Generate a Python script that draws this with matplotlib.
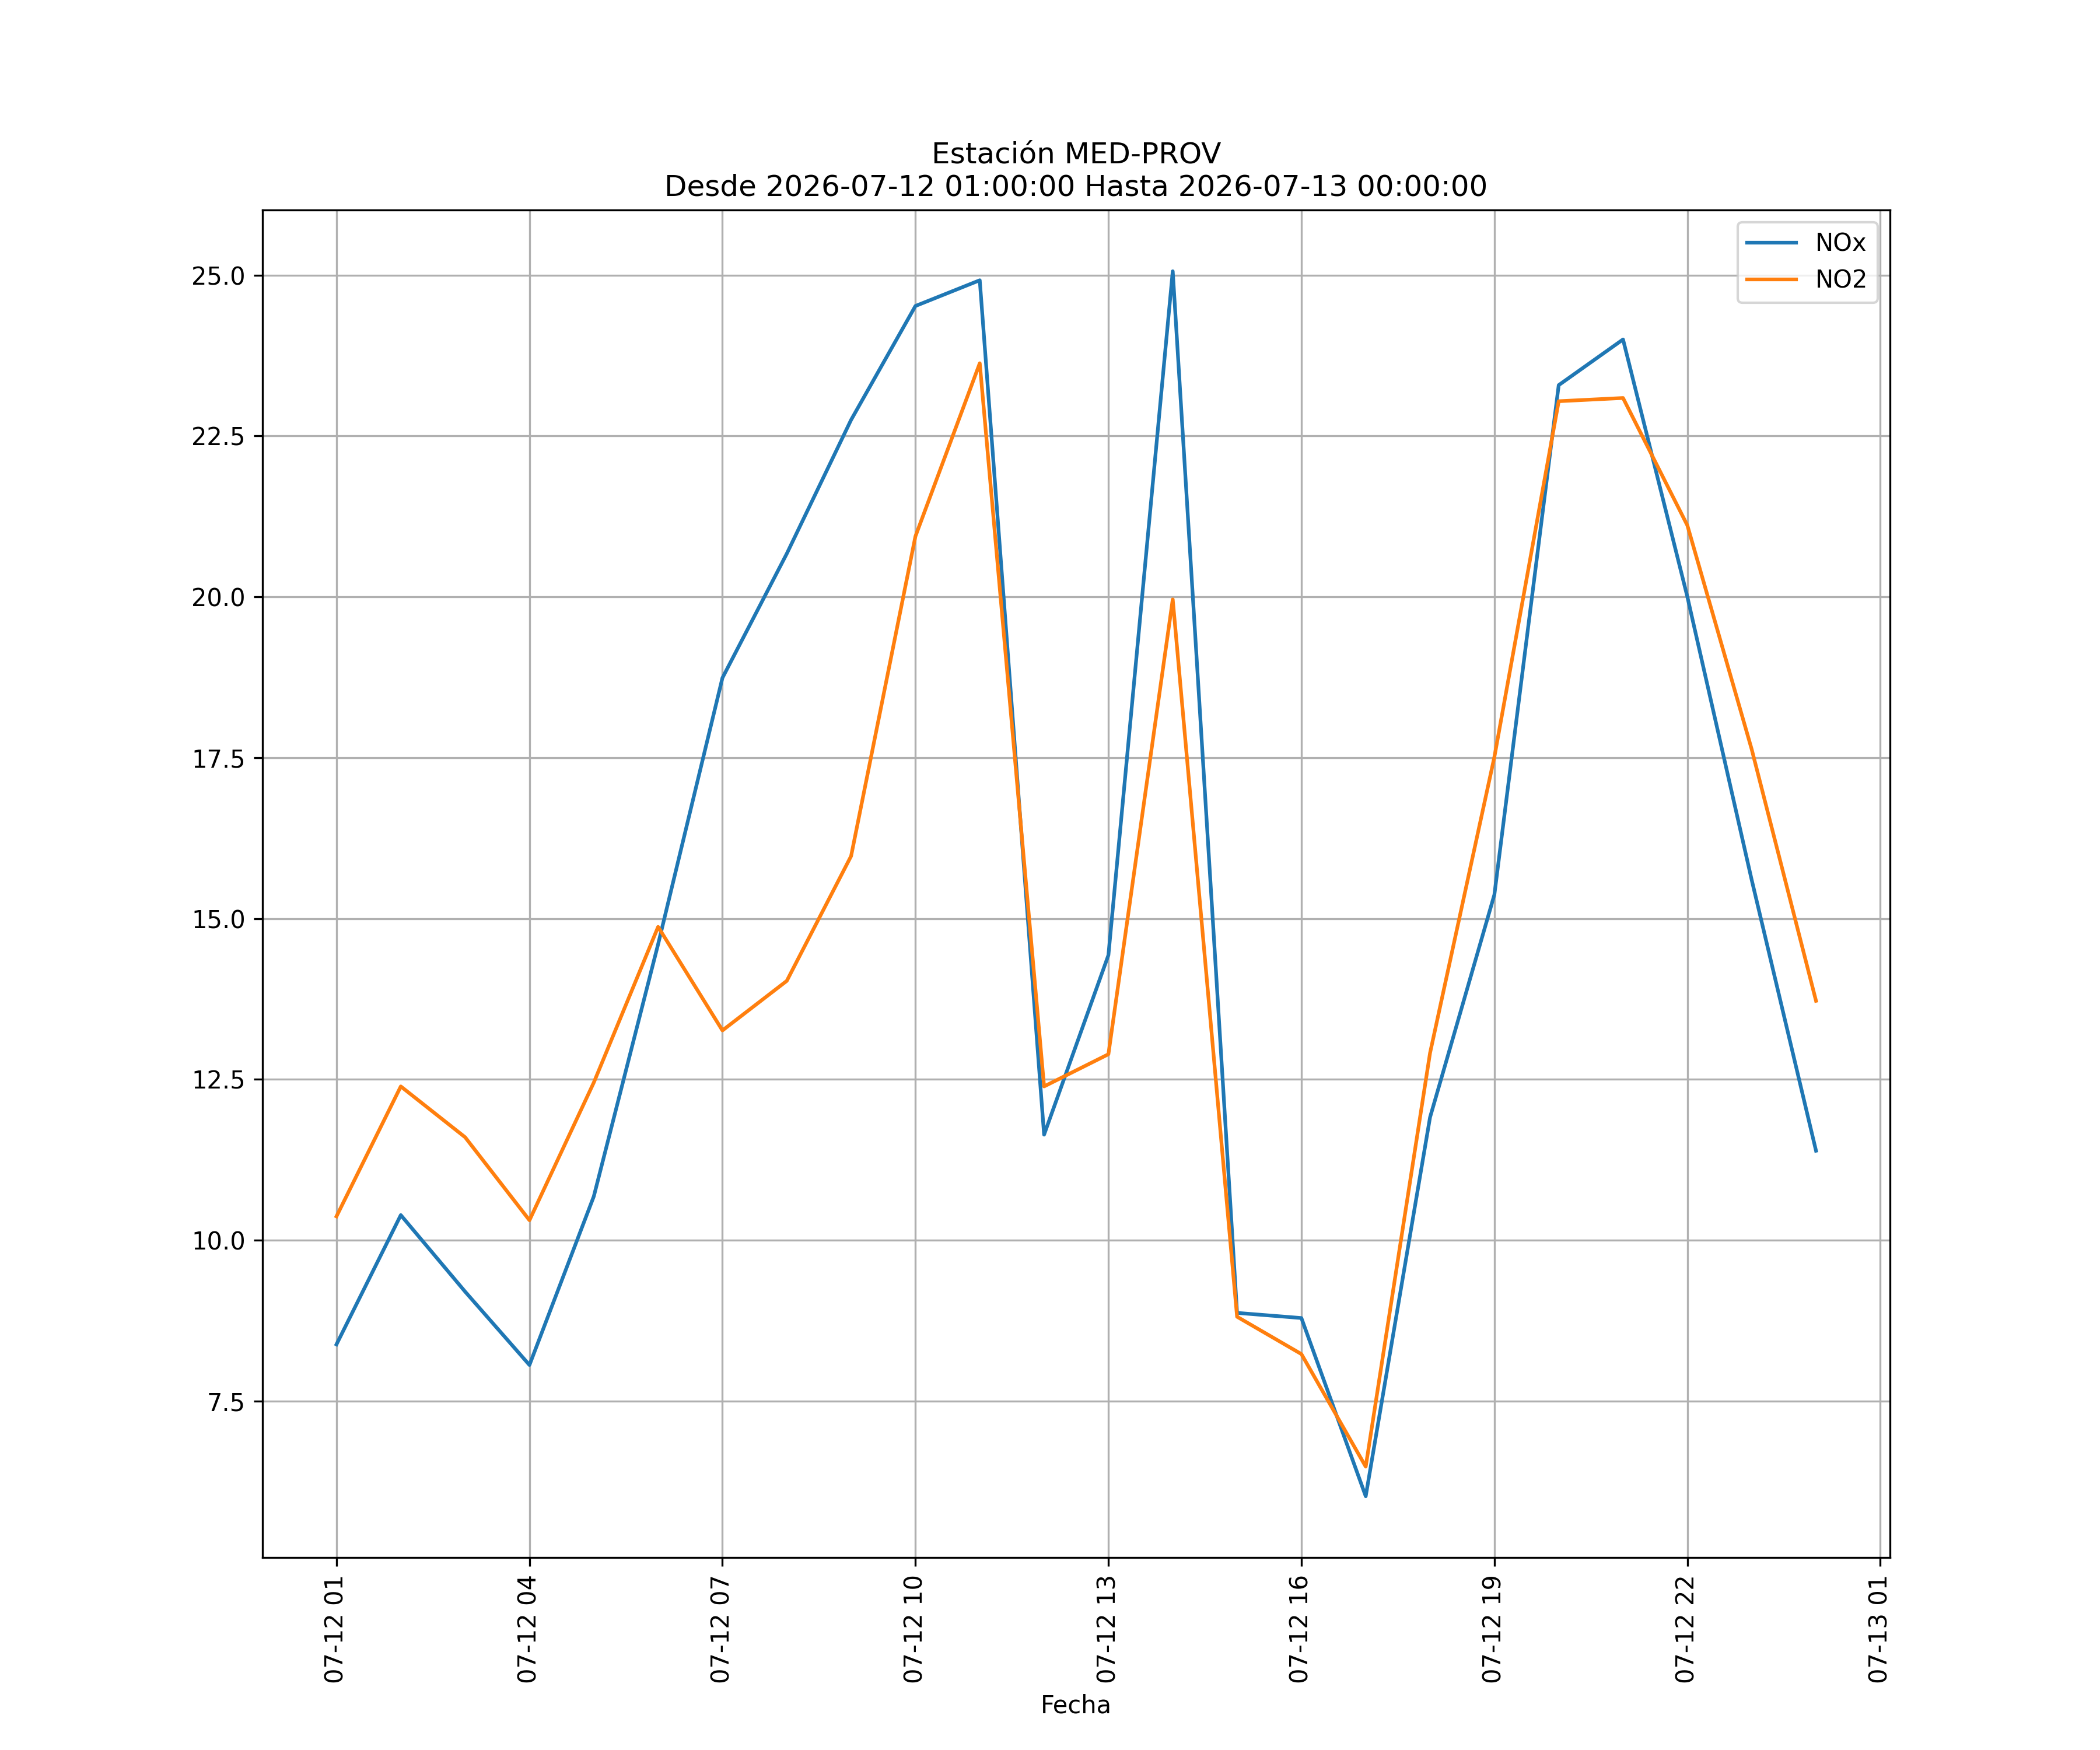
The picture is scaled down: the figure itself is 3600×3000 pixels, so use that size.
import matplotlib
matplotlib.use("Agg")
import matplotlib.pyplot as plt
import matplotlib.dates as mdates
import pandas as pd

times = pd.date_range("2026-07-12 01:00", "2026-07-13 00:00", freq="h")
nox = [8.38, 10.39, 9.2, 8.06, 10.68, 14.6, 18.74, 20.67, 22.75, 24.52, 24.92, 11.64,
       14.43, 25.06, 8.87, 8.79, 6.02, 11.91, 15.37, 23.29, 24.0, 20.0, 15.6, 11.39]
no2 = [10.37, 12.39, 11.6, 10.31, 12.45, 14.87, 13.26, 14.03, 15.97, 20.94, 23.63, 12.39,
       12.89, 19.96, 8.81, 8.23, 6.48, 12.91, 17.51, 23.04, 23.09, 21.11, 17.63, 13.72]

fig, ax = plt.subplots(figsize=(12, 10), dpi=300)
ax.plot(times, nox, label="NOx")
ax.plot(times, no2, label="NO2")
ax.xaxis.set_major_locator(mdates.HourLocator(byhour=range(1, 24, 3)))
ax.xaxis.set_major_formatter(mdates.DateFormatter("%m-%d %H"))
plt.setp(ax.get_xticklabels(), rotation=90)
ax.set_xlabel("Fecha")
ax.set_title("Estación MED-PROV\nDesde 2026-07-12 01:00:00 Hasta 2026-07-13 00:00:00")
ax.grid(True)
ax.legend(loc="upper right")
fig.savefig("out.png")
